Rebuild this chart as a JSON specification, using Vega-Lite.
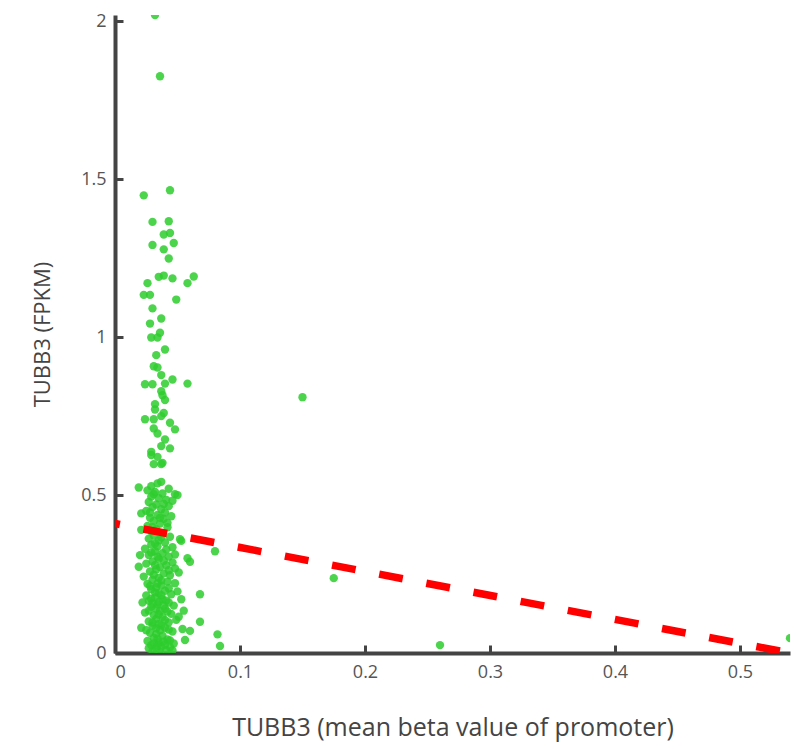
{
  "$schema": "https://vega.github.io/schema/vega-lite/v6.json",
  "width": 675,
  "height": 638,
  "autosize": "none",
  "padding": {"left": 115, "top": 15, "right": 6, "bottom": 96},
  "background": "white",
  "config": {
    "view": {"stroke": null},
    "font": "Open Sans",
    "axis": {
      "grid": false,
      "domainColor": "#444444",
      "domainWidth": 4,
      "tickColor": "#444444",
      "tickWidth": 3,
      "tickSize": -8,
      "labelColor": "#555555",
      "labelFontSize": 18,
      "labelFont": "Open Sans",
      "titleFont": "Open Sans",
      "titleFontWeight": "normal",
      "titleColor": "#444444"
    }
  },
  "layer": [
    {
      "data": {
        "values": [
          {"x": 0.032, "y": 2.02}, {"x": 0.036, "y": 1.826}, {"x": 0.023, "y": 1.449}, {"x": 0.044, "y": 1.465},
          {"x": 0.030, "y": 1.365}, {"x": 0.043, "y": 1.367}, {"x": 0.039, "y": 1.325}, {"x": 0.044, "y": 1.330},
          {"x": 0.030, "y": 1.292}, {"x": 0.047, "y": 1.298}, {"x": 0.039, "y": 1.278}, {"x": 0.043, "y": 1.249},
          {"x": 0.035, "y": 1.191}, {"x": 0.039, "y": 1.195}, {"x": 0.046, "y": 1.186}, {"x": 0.063, "y": 1.192},
          {"x": 0.058, "y": 1.171}, {"x": 0.026, "y": 1.171}, {"x": 0.023, "y": 1.134}, {"x": 0.028, "y": 1.134},
          {"x": 0.049, "y": 1.119}, {"x": 0.030, "y": 1.091}, {"x": 0.037, "y": 1.059}, {"x": 0.028, "y": 1.043},
          {"x": 0.029, "y": 0.999}, {"x": 0.034, "y": 0.999}, {"x": 0.036, "y": 1.014}, {"x": 0.033, "y": 0.943},
          {"x": 0.040, "y": 0.961}, {"x": 0.031, "y": 0.908}, {"x": 0.034, "y": 0.904}, {"x": 0.037, "y": 0.880},
          {"x": 0.024, "y": 0.851}, {"x": 0.030, "y": 0.851}, {"x": 0.040, "y": 0.853}, {"x": 0.046, "y": 0.866},
          {"x": 0.058, "y": 0.853}, {"x": 0.037, "y": 0.829}, {"x": 0.038, "y": 0.816}, {"x": 0.040, "y": 0.801},
          {"x": 0.032, "y": 0.788}, {"x": 0.032, "y": 0.771}, {"x": 0.039, "y": 0.760}, {"x": 0.037, "y": 0.750},
          {"x": 0.024, "y": 0.740}, {"x": 0.031, "y": 0.740}, {"x": 0.044, "y": 0.729}, {"x": 0.031, "y": 0.711},
          {"x": 0.048, "y": 0.708}, {"x": 0.034, "y": 0.695}, {"x": 0.040, "y": 0.676}, {"x": 0.037, "y": 0.655},
          {"x": 0.044, "y": 0.648}, {"x": 0.029, "y": 0.637}, {"x": 0.029, "y": 0.627}, {"x": 0.034, "y": 0.621},
          {"x": 0.031, "y": 0.598}, {"x": 0.038, "y": 0.602}, {"x": 0.037, "y": 0.598}, {"x": 0.019, "y": 0.524},
          {"x": 0.029, "y": 0.528}, {"x": 0.034, "y": 0.537}, {"x": 0.037, "y": 0.542}, {"x": 0.048, "y": 0.503},
          {"x": 0.050, "y": 0.500}, {"x": 0.021, "y": 0.442}, {"x": 0.053, "y": 0.355}, {"x": 0.080, "y": 0.322},
          {"x": 0.058, "y": 0.300}, {"x": 0.060, "y": 0.289}, {"x": 0.019, "y": 0.273}, {"x": 0.048, "y": 0.268},
          {"x": 0.068, "y": 0.186}, {"x": 0.055, "y": 0.134}, {"x": 0.068, "y": 0.099}, {"x": 0.021, "y": 0.080},
          {"x": 0.060, "y": 0.070}, {"x": 0.054, "y": 0.076}, {"x": 0.082, "y": 0.059}, {"x": 0.056, "y": 0.041},
          {"x": 0.084, "y": 0.022}, {"x": 0.150, "y": 0.810}, {"x": 0.175, "y": 0.237}, {"x": 0.260, "y": 0.025},
          {"x": 0.540, "y": 0.047},
          {"x": 0.026, "y": 0.515}, {"x": 0.032, "y": 0.510}, {"x": 0.038, "y": 0.505}, {"x": 0.043, "y": 0.520}, {"x": 0.029, "y": 0.495},
          {"x": 0.035, "y": 0.490}, {"x": 0.041, "y": 0.485}, {"x": 0.027, "y": 0.478}, {"x": 0.033, "y": 0.470}, {"x": 0.046, "y": 0.482},
          {"x": 0.030, "y": 0.462}, {"x": 0.037, "y": 0.455}, {"x": 0.043, "y": 0.465}, {"x": 0.025, "y": 0.450}, {"x": 0.040, "y": 0.445},
          {"x": 0.034, "y": 0.437}, {"x": 0.028, "y": 0.428}, {"x": 0.039, "y": 0.425}, {"x": 0.045, "y": 0.433}, {"x": 0.031, "y": 0.418},
          {"x": 0.036, "y": 0.410}, {"x": 0.026, "y": 0.402}, {"x": 0.042, "y": 0.398}, {"x": 0.033, "y": 0.392}, {"x": 0.029, "y": 0.385},
          {"x": 0.038, "y": 0.378}, {"x": 0.031, "y": 0.372}, {"x": 0.044, "y": 0.368}, {"x": 0.027, "y": 0.362}, {"x": 0.035, "y": 0.357},
          {"x": 0.040, "y": 0.350}, {"x": 0.029, "y": 0.343}, {"x": 0.034, "y": 0.338}, {"x": 0.046, "y": 0.335}, {"x": 0.024, "y": 0.330},
          {"x": 0.032, "y": 0.322}, {"x": 0.038, "y": 0.316}, {"x": 0.027, "y": 0.310}, {"x": 0.043, "y": 0.305}, {"x": 0.035, "y": 0.298}, {"x": 0.048, "y": 0.312},
          {"x": 0.030, "y": 0.290}, {"x": 0.025, "y": 0.283}, {"x": 0.041, "y": 0.278}, {"x": 0.036, "y": 0.272}, {"x": 0.046, "y": 0.287},
          {"x": 0.033, "y": 0.265}, {"x": 0.028, "y": 0.258}, {"x": 0.039, "y": 0.252}, {"x": 0.044, "y": 0.246}, {"x": 0.023, "y": 0.242}, {"x": 0.035, "y": 0.238},
          {"x": 0.030, "y": 0.232}, {"x": 0.042, "y": 0.226}, {"x": 0.026, "y": 0.219}, {"x": 0.037, "y": 0.214}, {"x": 0.048, "y": 0.221}, {"x": 0.033, "y": 0.208},
          {"x": 0.029, "y": 0.202}, {"x": 0.040, "y": 0.197}, {"x": 0.035, "y": 0.190}, {"x": 0.045, "y": 0.186}, {"x": 0.025, "y": 0.182}, {"x": 0.050, "y": 0.195},
          {"x": 0.032, "y": 0.176}, {"x": 0.038, "y": 0.170}, {"x": 0.027, "y": 0.165}, {"x": 0.043, "y": 0.160}, {"x": 0.034, "y": 0.154}, {"x": 0.047, "y": 0.150},
          {"x": 0.029, "y": 0.146}, {"x": 0.040, "y": 0.140}, {"x": 0.036, "y": 0.133}, {"x": 0.024, "y": 0.128}, {"x": 0.045, "y": 0.124}, {"x": 0.031, "y": 0.120},
          {"x": 0.038, "y": 0.114}, {"x": 0.033, "y": 0.108}, {"x": 0.027, "y": 0.100}, {"x": 0.043, "y": 0.097}, {"x": 0.035, "y": 0.092}, {"x": 0.049, "y": 0.105},
          {"x": 0.030, "y": 0.086}, {"x": 0.040, "y": 0.080}, {"x": 0.036, "y": 0.072}, {"x": 0.046, "y": 0.068}, {"x": 0.028, "y": 0.064}, {"x": 0.033, "y": 0.060},
          {"x": 0.038, "y": 0.055}, {"x": 0.031, "y": 0.048}, {"x": 0.042, "y": 0.043}, {"x": 0.026, "y": 0.038}, {"x": 0.035, "y": 0.034}, {"x": 0.047, "y": 0.030},
          {"x": 0.029, "y": 0.025}, {"x": 0.037, "y": 0.020}, {"x": 0.033, "y": 0.014}, {"x": 0.041, "y": 0.010}, {"x": 0.030, "y": 0.006}, {"x": 0.044, "y": 0.018}, {"x": 0.036, "y": 0.004},
          {"x": 0.021, "y": 0.390}, {"x": 0.020, "y": 0.310}, {"x": 0.052, "y": 0.360}, {"x": 0.051, "y": 0.255}, {"x": 0.053, "y": 0.170}, {"x": 0.022, "y": 0.160}, {"x": 0.051, "y": 0.115},
          {"x": 0.031, "y": 0.503}, {"x": 0.039, "y": 0.472}, {"x": 0.028, "y": 0.445}, {"x": 0.036, "y": 0.428}, {"x": 0.042, "y": 0.412},
          {"x": 0.030, "y": 0.398}, {"x": 0.037, "y": 0.366}, {"x": 0.032, "y": 0.347}, {"x": 0.041, "y": 0.328}, {"x": 0.029, "y": 0.318},
          {"x": 0.034, "y": 0.305}, {"x": 0.039, "y": 0.292}, {"x": 0.032, "y": 0.278}, {"x": 0.043, "y": 0.262}, {"x": 0.031, "y": 0.248},
          {"x": 0.037, "y": 0.230}, {"x": 0.034, "y": 0.220}, {"x": 0.028, "y": 0.212}, {"x": 0.043, "y": 0.205}, {"x": 0.032, "y": 0.192},
          {"x": 0.037, "y": 0.183}, {"x": 0.029, "y": 0.172}, {"x": 0.041, "y": 0.166}, {"x": 0.035, "y": 0.162}, {"x": 0.030, "y": 0.156},
          {"x": 0.039, "y": 0.150}, {"x": 0.033, "y": 0.140}, {"x": 0.042, "y": 0.131}, {"x": 0.027, "y": 0.134}, {"x": 0.035, "y": 0.122},
          {"x": 0.040, "y": 0.104}, {"x": 0.030, "y": 0.096}, {"x": 0.037, "y": 0.088}, {"x": 0.033, "y": 0.078}, {"x": 0.043, "y": 0.074},
          {"x": 0.025, "y": 0.072}, {"x": 0.034, "y": 0.045}, {"x": 0.039, "y": 0.036}, {"x": 0.031, "y": 0.030}, {"x": 0.044, "y": 0.040},
          {"x": 0.027, "y": 0.015}, {"x": 0.040, "y": 0.026}, {"x": 0.046, "y": 0.008}, {"x": 0.034, "y": 0.024}
        ]
      },
      "mark": {"type": "circle", "size": 70, "color": "#2ecc2e", "opacity": 0.85, "clip": true},
      "encoding": {
        "x": {
          "field": "x", "type": "quantitative",
          "scale": {"domain": [0, 0.54], "nice": false, "zero": false},
          "axis": {"values": [0, 0.1, 0.2, 0.3, 0.4, 0.5], "format": "~g", "title": "TUBB3 (mean beta value of promoter)", "titleFontSize": 25, "titlePadding": 34, "labelPadding": 18}
        },
        "y": {
          "field": "y", "type": "quantitative",
          "scale": {"domain": [0, 2.02], "nice": false, "zero": false},
          "axis": {"values": [0, 0.5, 1, 1.5, 2], "format": "~g", "title": "TUBB3 (FPKM)", "titleFontSize": 22, "titlePadding": 26, "labelPadding": 17}
        }
      }
    },
    {
      "data": {"values": [{"x": 0, "y": 0.41}, {"x": 0.54, "y": 0.0}]},
      "mark": {"type": "line", "color": "#ff0000", "strokeWidth": 7.5, "strokeDash": [24, 24], "strokeDashOffset": 19, "clip": true},
      "encoding": {
        "x": {"field": "x", "type": "quantitative"},
        "y": {"field": "y", "type": "quantitative"}
      }
    }
  ]
}
